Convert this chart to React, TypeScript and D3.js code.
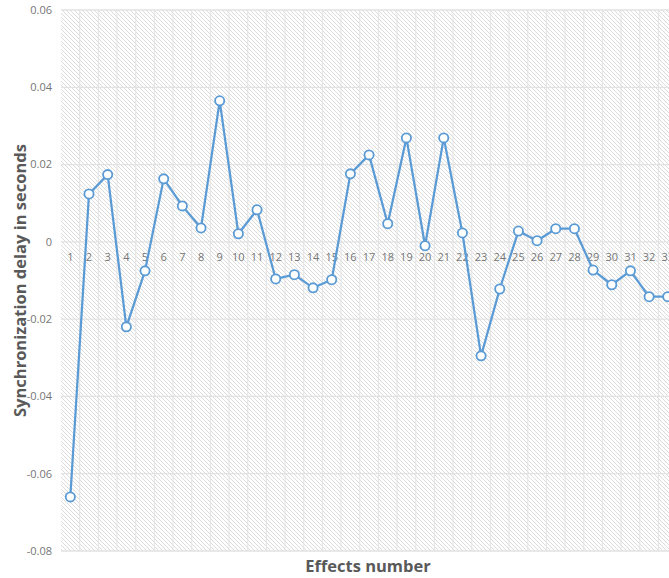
import React from "react";
import * as d3 from "d3";

const categories: string[] = Array.from({ length: 33 }, (_, i) => String(i + 1));
const delays: number[] = [
  -0.066, 0.0124, 0.0174, -0.022, -0.0075, 0.0163, 0.0093, 0.0036, 0.0365, 0.0021,
  0.0083, -0.0096, -0.0085, -0.0119, -0.0098, 0.0176, 0.0225, 0.0047, 0.0269, -0.001,
  0.0269, 0.0023, -0.0295, -0.0122, 0.0028, 0.0003, 0.0034, 0.0034, -0.0073, -0.0111,
  -0.0075, -0.0142, -0.0142,
];
const yTicks: number[] = [-0.08, -0.06, -0.04, -0.02, 0, 0.02, 0.04, 0.06];
const yTitle = "Synchronization delay in seconds";
const xTitle = "Effects number";

const W = 669;
const H = 578;
const left = 61;
const top = 10;
const bottom = 551;
const band = 18.67;

export default function App() {
  const x = d3
    .scaleBand<string>()
    .domain(categories)
    .range([left, left + band * categories.length])
    .paddingInner(0)
    .paddingOuter(0);
  const y = d3.scaleLinear().domain([-0.08, 0.06]).range([bottom, top]);
  const cx = (c: string) => (x(c) as number) + x.bandwidth() / 2;
  const pts = categories.map((c, i) => [cx(c), y(delays[i])] as [number, number]);
  const line = d3.line()(pts) as string;
  const plotRight = W + 20;
  const fmt = (v: number) => (v === 0 ? "0" : v.toFixed(2));

  return (
    <svg
      width={W}
      height={H}
      style={{ position: "absolute", left: 0, top: 0, background: "#fff" }}
      fontFamily="'Open Sans', 'Liberation Sans', sans-serif"
    >
      <defs>
        <pattern id="hatch" width="4" height="4" patternUnits="userSpaceOnUse">
          <rect width="4" height="4" fill="#ffffff" />
          <path d="M-1,-1 L5,5 M-1,3 L1,5 M3,-1 L5,1" stroke="#dcdcdc" strokeWidth="1" />
        </pattern>
        <clipPath id="plotclip">
          <rect x={left} y={top} width={plotRight - left} height={bottom - top} />
        </clipPath>
      </defs>
      <rect x={left} y={top} width={plotRight - left} height={bottom - top} fill="url(#hatch)" />
      {categories.map((c) => (
        <line
          key={"v" + c}
          x1={(x(c) as number) + x.bandwidth()}
          x2={(x(c) as number) + x.bandwidth()}
          y1={top}
          y2={bottom}
          stroke="#e6e6e6"
          strokeWidth={1.2}
        />
      ))}
      {yTicks.map((t) => (
        <line
          key={"h" + t}
          x1={left}
          x2={plotRight}
          y1={y(t)}
          y2={y(t)}
          stroke="#e2e2e2"
          strokeWidth={1.3}
        />
      ))}
      {yTicks.map((t) => (
        <text
          key={"yl" + t}
          x={52}
          y={y(t)}
          dy="0.35em"
          textAnchor="end"
          fontSize={11}
          fill="#767676"
        >
          {fmt(t)}
        </text>
      ))}
      {categories.map((c) => (
        <text
          key={"xl" + c}
          x={cx(c)}
          y={y(0) + 15}
          dy="0.35em"
          textAnchor="middle"
          fontSize={11}
          fill="#767676"
        >
          {c}
        </text>
      ))}
      <g clipPath="url(#plotclip)">
        <path d={line} fill="none" stroke="#5b9bd5" strokeWidth={2.25} strokeLinejoin="round" />
        {pts.map((p, i) => (
          <circle
            key={"pt" + i}
            cx={p[0]}
            cy={p[1]}
            r={4.6}
            fill="#ffffff"
            stroke="#5b9bd5"
            strokeWidth={1.8}
          />
        ))}
      </g>
      <text
        transform={`translate(20, ${(top + bottom) / 2}) rotate(-90)`}
        textAnchor="middle"
        dy="0.35em"
        fontSize={16.5}
        fontWeight="bold"
        fill="#595959"
      >
        {yTitle}
      </text>
      <text
        x={368}
        y={566}
        textAnchor="middle"
        dy="0.35em"
        fontSize={16.5}
        fontWeight="bold"
        fill="#595959"
      >
        {xTitle}
      </text>
    </svg>
  );
}
